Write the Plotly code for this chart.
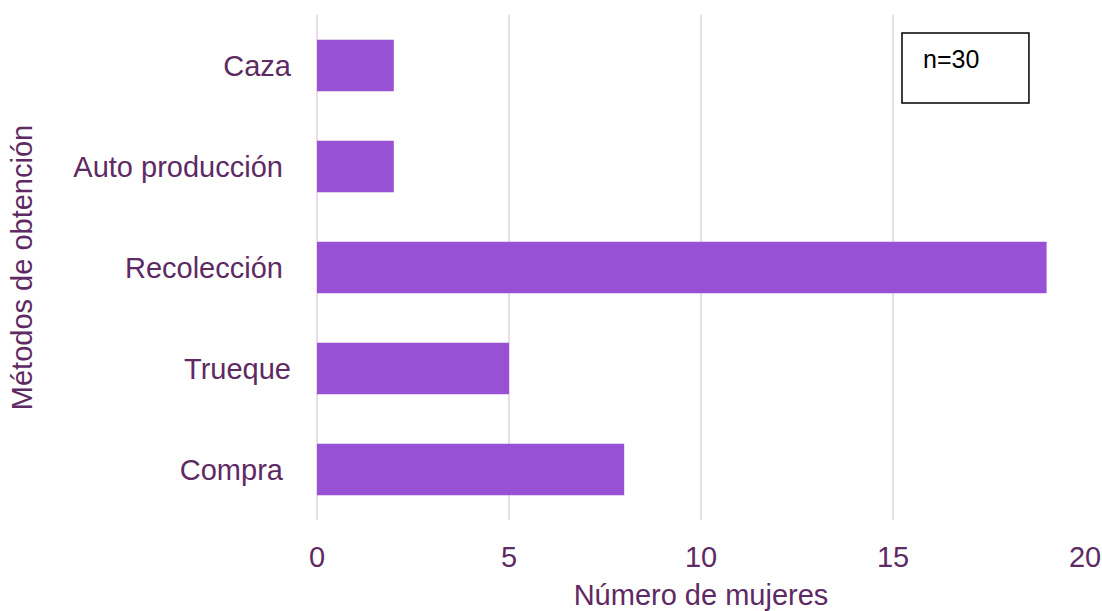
import plotly.graph_objects as go

categories = ["Compra", "Trueque", "Recolección", "Auto producción", "Caza"]
tick_labels = ["Compra\u00a0", "Trueque", "Recolección\u00a0", "Auto producción\u00a0", "Caza"]
values = [8, 5, 19, 2, 2]
x_ticks = [0, 5, 10, 15, 20]

TEXT = "#5E2A63"
GRID = "#EBDCEC"
FONT = "Liberation Sans, Arial, sans-serif"
FS = 29

fig = go.Figure()
fig.add_trace(go.Bar(
    y=categories, x=values, orientation="h",
    marker=dict(color="#9850D4", line=dict(width=0)),
    width=0.51,
))

fig.update_layout(
    width=1102, height=611,
    margin=dict(l=317, r=17, t=15, b=91),
    paper_bgcolor="white", plot_bgcolor="white",
    font=dict(family=FONT, size=FS, color=TEXT),
    showlegend=False,
    xaxis=dict(
        range=[0, 20], tickvals=x_ticks, showgrid=True, gridcolor=GRID, gridwidth=2,
        zeroline=True, zerolinecolor=GRID, zerolinewidth=2,
        showline=False, ticks="", ticklabelstandoff=17, automargin=False,
        title=dict(text="Número de mujeres", standoff=19, font=dict(size=FS, color=TEXT)),
        tickfont=dict(size=FS, color=TEXT),
    ),
    yaxis=dict(
        categoryorder="array", categoryarray=categories,
        tickvals=categories, ticktext=tick_labels,
        showgrid=False, showline=False, ticks="", ticklabelstandoff=25, automargin=False,
        title=dict(text="Métodos de obtención", standoff=32, font=dict(size=FS, color=TEXT)),
        tickfont=dict(size=FS, color=TEXT),
        range=[-0.5, 4.5],
    ),
    shapes=[dict(type="rect", xref="paper", yref="paper",
                 x0=0.7617, x1=0.927, y0=0.8257, y1=0.9644,
                 line=dict(color="black", width=1.5), fillcolor="white")],
    annotations=[dict(text="n=30", xref="paper", yref="paper", x=0.7865, y=0.912,
                      xanchor="left", yanchor="middle", showarrow=False,
                      font=dict(family=FONT, size=25, color="black"))],
)

fig.write_html("out.html",
               config={"displayModeBar": False},
               post_script="document.body.style.margin='0';document.body.style.overflow='hidden';")
